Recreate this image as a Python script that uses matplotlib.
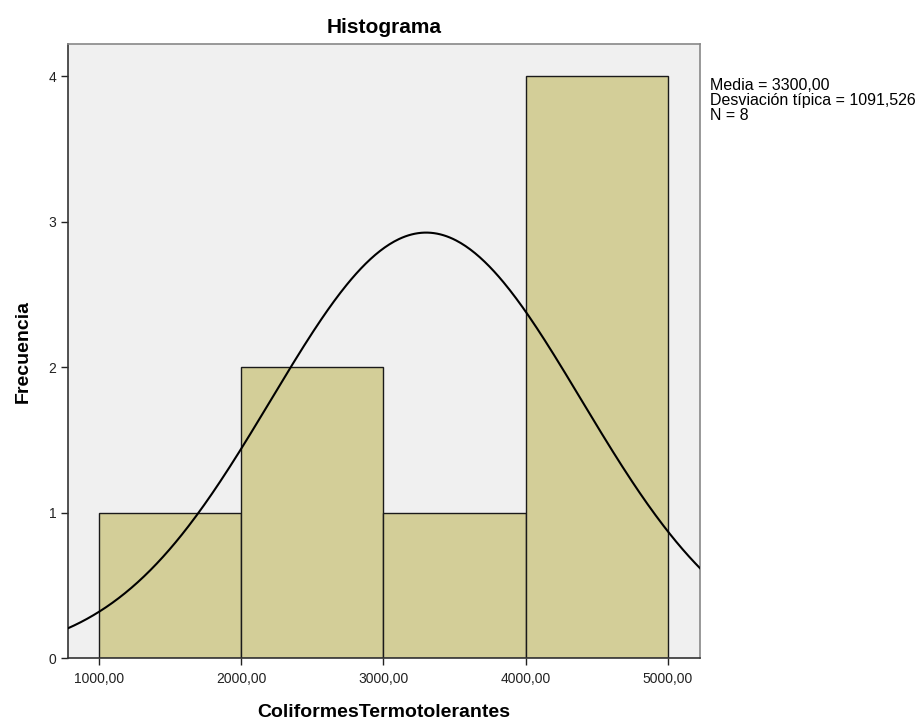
import numpy as np
import matplotlib.pyplot as plt

plt.rcParams['font.family'] = ['Liberation Sans', 'DejaVu Sans']

# Datos del histograma
bordes = [1000, 2000, 3000, 4000, 5000]
frecuencias = [1, 2, 1, 4]
media = 3300.00
desv = 1091.526
n = 8
xticks = [1000, 2000, 3000, 4000, 5000]
xlabels = ['1000,00', '2000,00', '3000,00', '4000,00', '5000,00']
yticks = [0, 1, 2, 3, 4]

fig = plt.figure(figsize=(9.21, 7.23), dpi=100)
ax = fig.add_axes([0.0738, 0.0899, 0.6862, 0.8492])
ax.set_facecolor('#f0f0f0')

anchos = np.diff(bordes)
ax.bar(bordes[:-1], frecuencias, width=anchos, align='edge',
       color='#d3ce98', edgecolor='#1a1a1a', linewidth=1.0, zorder=2)

# Curva normal
xmin, xmax = 782, 5225
xs = np.linspace(xmin, xmax, 400)
ancho_bin = anchos[0]
ys = n * ancho_bin / (desv * np.sqrt(2 * np.pi)) * np.exp(-0.5 * ((xs - media) / desv) ** 2)
ax.plot(xs, ys, color='black', linewidth=1.5, zorder=3)

ax.set_xlim(xmin, xmax)
ax.set_ylim(0, 4.22)
ax.set_xticks(xticks)
ax.set_xticklabels(xlabels, fontsize=10, color='#222222')
ax.set_yticks(yticks)
ax.set_yticklabels([str(v) for v in yticks], fontsize=10, color='#222222')
ax.tick_params(axis='both', length=5, width=1, color='#222222')
ax.tick_params(axis='x', pad=5)

for lado in ['top', 'right']:
    ax.spines[lado].set_color('#888888')
    ax.spines[lado].set_linewidth(1.2)
for lado in ['left', 'bottom']:
    ax.spines[lado].set_color('#333333')
    ax.spines[lado].set_linewidth(1.2)

ax.set_title('Histograma', fontsize=15, fontweight='bold', pad=8)
ax.set_xlabel('ColiformesTermotolerantes', fontsize=14, fontweight='bold', labelpad=13)
ax.set_ylabel('Frecuencia', fontsize=14, fontweight='bold', labelpad=12)

fig.text(710 / 921, 1 - 78 / 723,
         'Media = 3300,00\nDesviación típica = 1091,526\nN = 8',
         fontsize=11.5, va='top', ha='left', linespacing=1.0)

fig.savefig('out.png', dpi=100)
